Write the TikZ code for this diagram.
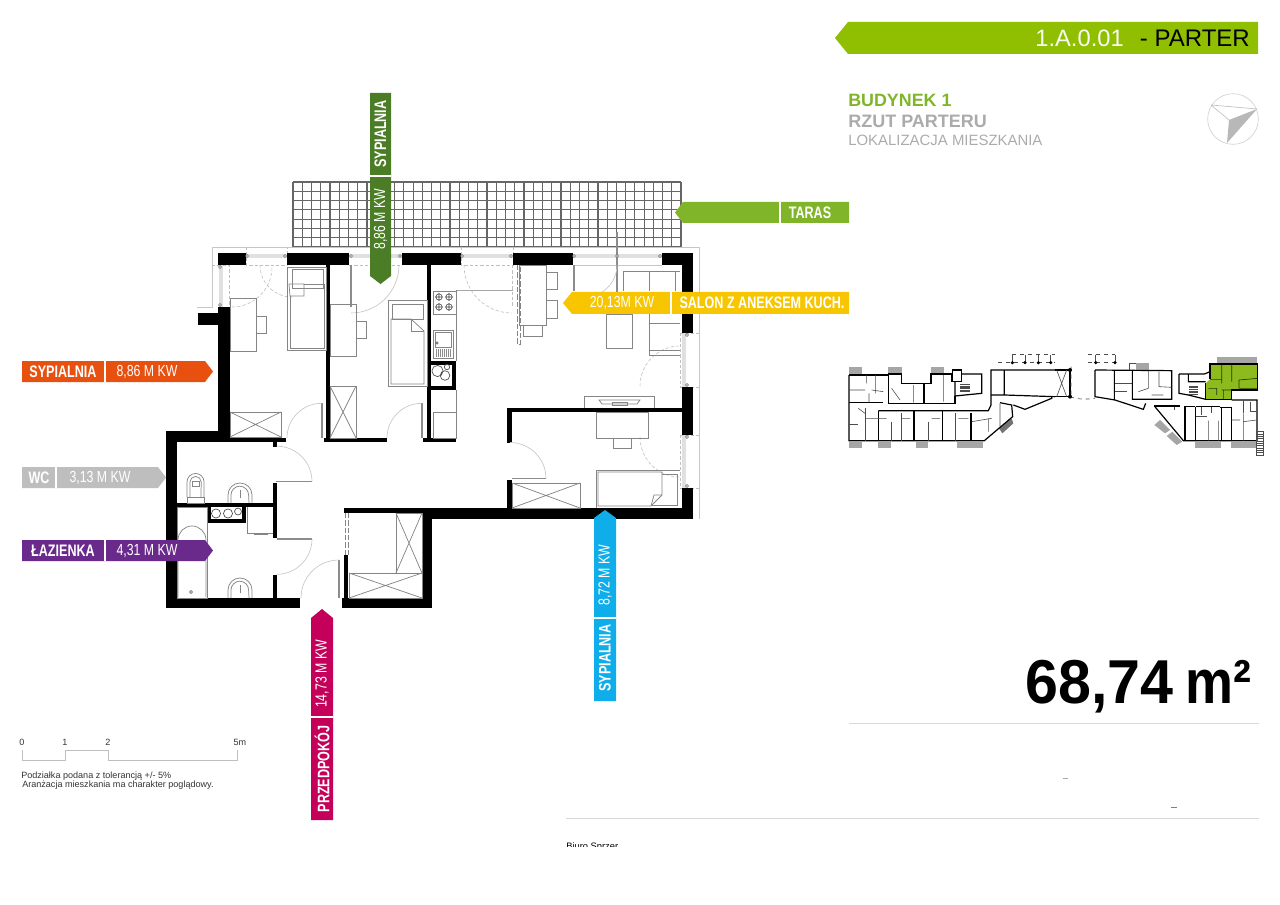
\documentclass[tikz,border=0pt]{standalone}
\usepackage{fontspec}
\setmainfont{Liberation Sans}
\newfontfamily\narrowfont[FakeStretch=0.755]{Liberation Sans}
\newfontfamily\thinnerfont[FakeStretch=0.77]{Liberation Sans}
\newfontfamily\areafont[FakeStretch=0.87]{Liberation Sans}
\newfontfamily\bigfont[FakeStretch=0.955]{Liberation Sans}
\usetikzlibrary{positioning}

\definecolor{tagorange}{HTML}{E8500F}
\definecolor{taggray}{HTML}{BEBEBE}
\definecolor{tagpurple}{HTML}{6A2A8C}
\definecolor{tagcrimson}{HTML}{C4005A}
\definecolor{tagblue}{HTML}{0FAEEA}
\definecolor{tagdarkgreen}{HTML}{4A7D25}
\definecolor{taglime}{HTML}{80B52A}
\definecolor{tagyellow}{HTML}{F7C600}
\definecolor{headgreen}{HTML}{8FBF00}
\definecolor{marked}{HTML}{8DBB1E}

\begin{document}
\begin{tikzpicture}[
    x=0.75pt, y=-0.75pt,
    % Define styles
    wall/.style={fill=black},
    furn/.style={draw=black!48, line width=0.55pt},
    furnlight/.style={draw=black!35, line width=0.5pt},
    swing/.style={draw=black!22, line width=0.5pt},
    swingdash/.style={draw=black!25, line width=0.45pt, dash pattern=on 2.5pt off 1.5pt},
    frame/.style={draw=black!22, line width=0.6pt},
    leaf/.style={draw=black!45, line width=1pt},
    tiles/.style={draw=black!60, line width=0.9pt},
    rule/.style={draw=black!15, line width=0.6pt},
    tagmain/.style={font=\narrowfont\bfseries\fontsize{12.5}{14}\selectfont, text=white, inner sep=0pt},
    tagarea/.style={font=\thinnerfont\fontsize{12}{14}\selectfont, text=white, inner sep=0pt},
    divide/.style={draw=white, line width=1.5pt},
    small/.style={font=\fontsize{6.8}{8}\selectfont, text=black!80, inner sep=0pt, anchor=west},
    mini/.style={draw=black, line width=0.9pt},
    minithin/.style={draw=black!70, line width=0.45pt},
    minipatch/.style={fill=black!35}
]
\useasboundingbox (0,0) rectangle (1280,905);

% Terrace tiles
\foreach \gx in {0,...,42}
    \draw[tiles] ({293+\gx*9.24},182) -- ({293+\gx*9.24},247);
\foreach \gy in {0,...,7}
    \draw[tiles] (293,{182+\gy*9.28}) -- (681,{182+\gy*9.28});

% Outer frame
\draw[frame] (197,307) -- (212,307) -- (212,247) -- (699,247) -- (699,519);

% Windows
\fill[black!12] (246,254) rectangle (287,258);
\fill[black!12] (349,254) rectangle (402,258);
\fill[black!12] (461,254) rectangle (513,258);
\fill[black!12] (573,254) rectangle (662,258);
\fill[black!12] (682,333) rectangle (686,387);
\fill[black!12] (682,435) rectangle (686,488);
\fill[black!12] (219,265) rectangle (223,307);
\draw[swingdash] (246,247) -- (246,265) -- (287,265) -- (287,247);
\draw[swingdash] (349,265) -- (402,265);
\draw[swingdash] (461,247) -- (461,265) -- (513,265) -- (513,247);
\draw[frame] (573,265) -- (662,265);
\draw[swingdash] (212,265) -- (229,265) -- (229,307);
\draw[swingdash] (680,333) -- (699,333) (680,387) -- (699,387);
\draw[swingdash] (680,435) -- (699,435) (680,488) -- (699,488);
\draw[swingdash] (680,333) -- (680,387) (680,435) -- (680,488);

% Walls
\fill[wall] (218,253) rectangle (246,265);
\fill[wall] (218,307) rectangle (229.5,442);
\fill[wall] (198,313) rectangle (229,325);
\fill[wall] (166,431) rectangle (229,442);
\fill[wall] (229,438) rectangle (286,442);
\fill[wall] (287,253) rectangle (349,265);
\fill[wall] (326,265) rectangle (330,440);
\fill[wall] (324,438) rectangle (387,442);
\fill[wall] (402,253) rectangle (461,265);
\fill[wall] (427,265) rectangle (431,440);
\fill[wall] (423,438) rectangle (456,442);
\fill[wall] (513,253) rectangle (573,265);
\fill[wall] (662,253) rectangle (693,265);
\fill[wall] (682,265) rectangle (693,333);
\fill[wall] (682,387) rectangle (693,435);
\fill[wall] (682,488) rectangle (693,519);
\fill[wall] (507,408) rectangle (682,412);
\fill[wall] (507,408) rectangle (512,443);
\fill[wall] (507,480) rectangle (512,510);
\fill[wall] (422,508) rectangle (693,519);
\fill[wall] (344,508) rectangle (422,513);
\fill[wall] (422,519) rectangle (432,608);
\fill[wall] (342,598) rectangle (432,608);
\fill[wall] (344,555) rectangle (348,598);
\fill[wall] (166,598) rectangle (300,608);
\fill[wall] (166,431) rectangle (177,608);
\fill[wall] (177,503) rectangle (277,507);
\fill[wall] (273,483) rectangle (277,538);
\fill[wall] (273,575) rectangle (277,598);
\fill[wall] (273,442) rectangle (277,447);

% Shafts
\fill[wall] (427,361) rectangle (456,390);
\fill[white] (431,365) rectangle (452,386);
\fill[wall] (207,507) rectangle (246,523);
\fill[white] (211,507) rectangle (242,519);

% Doors
\draw[leaf] (322,403) -- (322,438);
\draw[swing] (287,438) arc[start angle=180,end angle=90,radius=26pt];
\draw[leaf] (422,403) -- (422,438);
\draw[swing] (387,438) arc[start angle=180,end angle=90,radius=26pt];
\draw[leaf] (276,481.5) -- (312,481.5);
\draw[swing] (312,481.5) arc[start angle=0,end angle=90,radius=26.5pt];
\draw[leaf] (277,539) -- (312,539);
\draw[swing] (312,539) arc[start angle=0,end angle=-90,radius=26.5pt];
\draw[leaf] (339,560) -- (339,598);
\draw[swing] (301,598) arc[start angle=180,end angle=90,radius=28.5pt];
\draw[leaf] (512,478.5) -- (546,478.5);
\draw[swing] (546,478.5) arc[start angle=0,end angle=90,radius=27pt];
\draw[leaf] (351,265) -- (351,307);
\draw[swing] (351,313) arc[start angle=-90,end angle=0,radius=36pt];
\draw[leaf] (574,265) -- (574,291);
\draw[leaf] (617,232) -- (617,292);
\draw[swing] (617,265) arc[start angle=0,end angle=-62,radius=24pt];
\draw[swingdash] (512,265) -- (512,307);
\draw[swingdash] (464,265) arc[start angle=180,end angle=270,radius=36pt];
\draw[swingdash] (232,307) arc[start angle=-90,end angle=0,radius=30pt];
\draw[swingdash] (260,265) arc[start angle=180,end angle=270,radius=24pt];
\draw[swingdash] (640,386) arc[start angle=180,end angle=90,radius=30pt];
\draw[swingdash] (640,437) arc[start angle=180,end angle=270,radius=30pt];

% Hinges
\foreach \hx/\hy in {247/256,285/256,351/256,400/256,462/256,511/256,574/256,617/256,660/256,220/267,220/305,687/335,687/385,687/437,687/486}
    \draw[black!60, line width=0.4pt, fill=white] (\hx,\hy) circle[radius=1.1pt];

% Bedroom on the left
\draw[furn] (230,298) rectangle (256,351);
\draw[furn] (256,316) rectangle (266,333);
\draw[furn] (287,267) rectangle (326,350);
\draw[furn] (292,269) rectangle (323,288);
\draw[furn] (289,284) -- (304,284) -- (304,296) -- (290,296) -- cycle;
\draw[furn] (290,296) -- (290,348) -- (324,348) -- (324,284) -- (304,284);
\draw[furn] (230,412) rectangle (281,437);
\draw[furn] (230,412) -- (281,437) (230,437) -- (281,412);

% Bedroom in the middle
\draw[furn] (330,304) rectangle (356,356);
\draw[furn] (356,321) rectangle (366,338);
\draw[furn] (388,300) rectangle (427,386);
\draw[furn] (392,304) rectangle (423,319);
\draw[furn] (391,319) -- (411,319) -- (424,331) -- (424,384) -- (391,384) -- cycle;
\draw[furn] (411,319) -- (411,331) -- (424,331);
\draw[furn] (330,386) rectangle (356,438);
\draw[furn] (330,386) -- (356,438) (330,438) -- (356,386);

% Kitchen
\draw[furnlight] (457,290) -- (513,290);
\draw[furn] (456,290) -- (456,361) (456,390) -- (456,438);
\draw[furn] (433,291) rectangle (456,314);
\foreach \bx/\by in {439/297,449/297,439/307,449/307}
    \draw[black!70, line width=0.4pt] (\bx,\by) circle[radius=2.4pt]
        (\bx-4,\by) -- (\bx+4,\by) (\bx,\by-4) -- (\bx,\by+4);
\draw[furn] (433,330) rectangle (453,358);
\draw[furn] (435,332) rectangle (451,347);
\foreach \hx in {436,438,...,450}
    \draw[black!45, line width=0.5pt] (\hx,349) -- (\hx,357);
\draw[black!70, line width=0.4pt] (437,343) circle[radius=1pt];
\draw[black!70, line width=0.5pt] (437.5,371) circle[radius=4.2pt] (445,375.5) circle[radius=3.6pt] (447,367) circle[radius=2pt];
\draw[furn] (433,412) rectangle (456,438);

% Living room
\draw[furn] (519,265) rectangle (546,325);
\draw[furn] (546,272) rectangle (557,289);
\draw[furn] (546,300) rectangle (557,318);
\draw[furn] (523,325) rectangle (542,336);
\draw[furn, dash pattern=on 4pt off 1.5pt] (517,265) -- (517,344) -- (520,344) -- (520,265);
\draw[furn] (606,314) rectangle (632,348);
\draw[furn] (623,291) -- (623,271) -- (680,271) (649,271) -- (649,291) (675,271) -- (675,291);
\draw[furn] (649,314) -- (649,355) -- (680,355) (649,323) -- (680,323) (649,350) -- (680,350);
\draw[furn] (584,408) -- (584,396) -- (654,396) -- (654,408);
\draw[furn] (599,400) -- (640,400) -- (637,404) -- (602,404) -- cycle;
\draw[furn] (612,402) rectangle (627,405);

% Bedroom on the right
\draw[furn] (596,412) rectangle (648,438);
\draw[furn] (613,438) rectangle (631,448);
\draw[furn] (512,483) rectangle (580,508);
\draw[furn] (512,483) -- (580,508) (512,508) -- (580,483);
\draw[furn] (596,470) -- (680,470) (596,470) -- (596,508);
\draw[furn] (598,472) -- (662,472) -- (662,495) -- (651,506) -- (598,506) -- cycle;
\draw[furn] (662,474) -- (677,474) -- (677,505) -- (651,505);
\draw[furn] (662,495) -- (654,495) -- (651,506);

% Bathroom
\draw[furn] (187,497) -- (187,482) arc[start angle=180,end angle=0,radius=6.4pt] -- (204,497);
\draw[furn] (190,497) -- (190,482) arc[start angle=180,end angle=0,radius=4.2pt] -- (201,497);
\draw[furn] (187,497) rectangle (204,503);
\draw[furn] (192,481) rectangle (199,486);
\draw[furn] (228,503) -- (228,495) arc[start angle=180,end angle=0,radius=9pt] -- (252,503);
\draw[furn] (231,503) -- (231,495) arc[start angle=180,end angle=0,radius=6.6pt] -- (249,503);
\draw[furn] (228,598) -- (228,590) arc[start angle=180,end angle=0,radius=9pt] -- (252,598);
\draw[furn] (231,598) -- (231,590) arc[start angle=180,end angle=0,radius=6.6pt] -- (249,598);
\draw[furn] (240,490) -- (240,498) (240,585) -- (240,593);
\draw[furn] (177,507) rectangle (207,598);
\draw[furn] (178,597) -- (178,540) arc[start angle=180,end angle=0,radius=10.5pt] -- (206,597);
\draw[black!70, line width=0.4pt] (191,592) circle[radius=1.2pt];
\draw[furn] (247,507) -- (247,533) -- (273,533);
\draw[furn] (254,534) -- (268,534);
\draw[black!70, line width=0.5pt] (216,513.5) circle[radius=3.4pt] (228,513.5) circle[radius=3.4pt] (238,511.5) circle[radius=2.6pt];

% Hall wardrobes
\draw[furn] (396,513) rectangle (422,573);
\draw[furn] (396,513) -- (422,573) (396,573) -- (422,513);
\draw[furn] (349,573) rectangle (422,598);
\draw[furn] (349,573) -- (422,598) (349,598) -- (422,573);
\draw[furn, dash pattern=on 4pt off 1.5pt] (345,513) -- (345,555) (348,513) -- (348,555);

% Room tags
\fill[tagorange] (22,361) -- (205,361) -- (213,371.5) -- (205,382) -- (22,382) -- cycle;
\draw[divide] (105,361) -- (105,382);
\node[tagmain] (bedleft) at (63,371.5) {SYPIALNIA};
\node[tagarea] (bedleftarea) at (147,371.5) {8,86 M KW};

\fill[taggray] (22,467) -- (158,467) -- (166,477.5) -- (158,488) -- (22,488) -- cycle;
\draw[divide] (56,467) -- (56,488);
\node[tagmain] (wc) at (39,477.5) {WC};
\node[tagarea] (wcarea) at (100,477.5) {3,13 M KW};

\fill[tagpurple] (22,540) -- (205,540) -- (213,550.5) -- (205,561) -- (22,561) -- cycle;
\draw[divide] (105,540) -- (105,561);
\node[tagmain] (bath) at (63,550.5) {ŁAZIENKA};
\node[tagarea] (batharea) at (147,550.5) {4,31 M KW};

\fill[tagcrimson] (311,820) -- (311,618) -- (322,609) -- (333,618) -- (333,820) -- cycle;
\draw[divide] (311,717) -- (333,717);
\node[tagmain, rotate=90] (hall) at (322,769) {PRZEDPOKÓJ};
\node[tagarea, rotate=90] (hallarea) at (322,674) {14,73 M KW};

\fill[tagblue] (594,701) -- (594,518) -- (605,510) -- (616,518) -- (616,701) -- cycle;
\draw[divide] (594,618) -- (616,618);
\node[tagmain, rotate=90] (bedright) at (605,658) {SYPIALNIA};
\node[tagarea, rotate=90] (bedrightarea) at (605,575) {8,72 M KW};

\fill[tagdarkgreen] (370,93) -- (391,93) -- (391,276) -- (380.5,284) -- (370,276) -- cycle;
\draw[divide] (370,176) -- (391,176);
\node[tagmain, rotate=90] (bedmid) at (380.5,134) {SYPIALNIA};
\node[tagarea, rotate=90] (bedmidarea) at (380.5,219) {8,86 M KW};

\fill[taglime] (849,202) -- (683,202) -- (675,212.5) -- (683,223) -- (849,223) -- cycle;
\draw[divide] (780,202) -- (780,223);
\node[tagmain] (terrace) at (810,212.5) {TARAS};

\fill[tagyellow] (849,292) -- (572,292) -- (563,303) -- (572,314) -- (849,314) -- cycle;
\draw[divide] (671,292) -- (671,314);
\node[tagarea] (livingarea) at (622,303) {20,13M KW};
\node[tagmain] (living) at (762,303) {SALON Z ANEKSEM KUCH.};

% Header
\fill[headgreen] (848,22) -- (1258,22) -- (1258,54) -- (848,54) -- (835,38) -- cycle;
\node[font=\fontsize{17.8}{20}\selectfont, text=white!95!headgreen, inner sep=0pt, anchor=east] (flatno) at (1124,38) {1.A.0.01};
\node[font=\fontsize{18}{20}\selectfont, text=black, inner sep=0pt, anchor=east] (floor) at (1250,38) {- PARTER};

\node[font=\bfseries\fontsize{13.4}{15}\selectfont, text=taglime, inner sep=0pt, anchor=west] (building) at (848,100) {BUDYNEK 1};
\node[font=\bfseries\fontsize{13.5}{15}\selectfont, text=black!33, inner sep=0pt, anchor=west] (plan) at (848,121) {RZUT PARTERU};
\node[font=\fontsize{11.2}{13}\selectfont, text=black!33, inner sep=0pt, anchor=west] (place) at (848,140) {LOKALIZACJA MIESZKANIA};

% Compass
\draw[black!18, line width=0.5pt] (1233,119) circle[radius=19pt];
\fill[black!28] (1257,109) -- (1229,120) -- (1227,143) -- cycle;
\draw[black!25, line width=0.5pt] (1211,105) -- (1257,109) (1211,105) -- (1229,120);

% Site plan, left part
\begin{scope}[shift={(845,350)}, x=0.25pt, y=-0.25pt]
    % Terraces
    \foreach \ax/\ay/\bx/\by in {12/52/52/72,130/52/170/72,258/52/298/72,12/275/52/295,100/275/138/295,212/275/250/295,337/275/415/295}
        \fill[minipatch] (\ax,\ay) rectangle (\bx,\by);
    \fill[black!55] (462,235) -- (500,205) -- (505,220) -- (472,250) -- cycle;
    % Outer walls
    \draw[mini] (12,75) -- (12,272) -- (418,272) -- (503,200) -- (500,165) -- (465,158);
    \draw[mini] (12,75) -- (130,75) (130,72) -- (170,72) -- (170,100) -- (258,100) -- (258,72) -- (320,72) -- (320,95) -- (350,95) -- (350,60) -- (322,60) -- (322,95);
    \draw[mini] (350,72) -- (410,72) -- (410,130) -- (330,138) -- (330,95);
    \draw[mini] (12,158) -- (115,158) (130,160) -- (330,160) -- (330,138);
    \draw[mini] (100,182) -- (430,182) -- (438,165) -- (438,60) -- (630,60);
    \draw[mini] (478,60) -- (478,135) -- (438,135) (478,135) -- (630,140);
    \draw[mini] (100,182) -- (100,272) (207,182) -- (207,272) (292,182) -- (292,272) (378,190) -- (378,272);
    \draw[mini] (130,75) -- (130,158) (237,100) -- (237,158);
    \draw[mini] (505,165) -- (540,178) -- (620,145) -- (620,140);
    % Inner walls
    \draw[minithin] (12,120) -- (60,120) (80,120) -- (115,125) (92,75) -- (92,130) (65,75) -- (65,100) (72,130) -- (72,158);
    \draw[minithin] (12,222) -- (40,222) (60,175) -- (60,272) (140,215) -- (140,272) (170,190) -- (170,272) (250,215) -- (250,272) (330,190) -- (330,272);
    \draw[minithin] (205,105) -- (205,158) (140,115) -- (165,150) (295,75) -- (295,155) (380,215) -- (440,205) (430,205) -- (430,245) (465,160) -- (465,230);
    \draw[minithin] (100,205) -- (125,205) (170,205) -- (195,205) (260,205) -- (285,205) (340,205) -- (370,205) (40,175) -- (60,190) (60,205) -- (100,205);
    \foreach \sx in {1,...,6}
        \draw[minithin] (345,{100+\sx*4}) -- (375,{100+\sx*4});
    % Front row
    \draw[minithin, dashed] (502,14) -- (630,14) (460,38) -- (502,38) -- (630,38);
    \foreach \cx in {502,540,580,617} {
        \draw[minithin] (\cx,14) -- (\cx,38);
        \fill (\cx,38) circle[radius=1.3pt];
    }
\end{scope}

% Site plan, right part
\begin{scope}[shift={(1055,350)}, x=0.25pt, y=-0.25pt]
    % Terraces
    \foreach \ax/\ay/\bx/\by in {243/40/283/60,487/22/605/42,420/275/497/295,527/275/605/295}
        \fill[minipatch] (\ax,\ay) rectangle (\bx,\by);
    \fill[minipatch] (298,225) -- (315,210) -- (345,240) -- (330,250) -- cycle;
    \fill[minipatch] (335,258) -- (352,245) -- (382,275) -- (365,285) -- cycle;
    % The flat
    \fill[marked] (465,42) -- (608,42) -- (608,120) -- (530,120) -- (530,148) -- (452,148) -- (452,100) -- (465,88) -- cycle;
    \draw[black!70!marked, line width=0.5pt] (500,42) -- (500,100) (530,42) -- (530,95) (465,88) -- (500,88) (552,90) -- (608,85) (552,115) -- (608,115) (552,90) -- (552,115) (500,120) -- (530,120) (505,120) -- (505,148) (460,115) -- (485,115) -- (485,135);
    \draw[mini] (465,88) -- (465,42) -- (608,42) -- (608,120) -- (530,120) -- (530,148) -- (452,148) -- (452,100);
    % Middle part
    \draw[mini] (0,60) -- (45,60) -- (45,140) -- (0,140);
    \draw[minithin] (5,60) -- (35,140) (5,140) -- (35,60);
    \draw[minithin, dashed] (45,140) .. controls (75,150) and (95,148) .. (120,145) (48,50) -- (48,140);
    \draw[minithin, dashed] (98,14) -- (180,14) (98,38) -- (180,38);
    \foreach \cx in {122,180} {
        \draw[minithin] (\cx,14) -- (\cx,38);
        \fill (\cx,38) circle[radius=1.3pt];
    }
    \fill (45,60) circle[radius=1.5pt] (45,140) circle[radius=1.5pt];
    \draw[mini] (120,60) -- (120,140) -- (180,150) -- (265,178) -- (272,160);
    \draw[mini] (120,60) -- (350,62) -- (350,148) -- (232,148) -- (232,62) (178,60) -- (178,150);
    \draw[minithin] (180,100) -- (230,100) (180,125) -- (215,125) (222,40) -- (243,40) (222,40) -- (222,60);
    \draw[minithin] (280,62) -- (280,115) -- (250,125) (312,65) -- (312,110) -- (350,112) (290,135) -- (325,135);
    % Right wing
    \draw[mini] (372,72) -- (448,72) -- (465,65) (372,72) -- (372,130) -- (400,135) -- (452,148) (400,72) -- (400,95) -- (452,95);
    \foreach \sx in {1,...,6}
        \draw[minithin] (402,{103+\sx*5}) -- (430,{103+\sx*5});
    \draw[mini] (298,168) -- (385,272) -- (606,272) -- (606,150) -- (530,150);
    \draw[mini] (298,168) -- (375,168) (388,170) -- (420,170) (422,170) -- (495,170) (495,172) -- (530,172);
    \draw[mini] (390,170) -- (390,272) (422,170) -- (422,272) (500,170) -- (500,272) (530,170) -- (530,272);
    \draw[minithin] (460,212) -- (460,272) (490,212) -- (490,272) (565,190) -- (565,272) (530,210) -- (555,210) (565,215) -- (605,210);
    \draw[minithin] (423,198) -- (455,198) (358,170) -- (358,180) (440,172) -- (440,195) (470,172) -- (470,190) (565,150) -- (565,190) (585,155) -- (585,185) -- (605,185);
    % Stairs beside the wing
    \draw[minithin] (605,245) rectangle (625,315);
    \foreach \sx in {1,...,9}
        \draw[minithin] (605,{245+\sx*7}) -- (625,{245+\sx*7});
\end{scope}

% Scale bar
\draw[rule, draw=black!25] (22,750) -- (22,760.5) -- (65,760.5) -- (65,750) -- (108,750) -- (108,760.5) -- (237,760.5) -- (237,750);
\node[small, anchor=center] (scale0) at (22,742) {0};
\node[small, anchor=center] (scale1) at (65,742) {1};
\node[small, anchor=center] (scale2) at (108,742) {2};
\node[small, anchor=center] (scale5) at (240,742) {5m};
\node[small] (tolerance) at (21,776) {Podziałka podana z tolerancją +/- 5\%};
\node[small] (note) at (22,785) {Aranżacja mieszkania ma charakter poglądowy.};

% Area
\node[font=\bigfont\bfseries\fontsize{46.5}{50}\selectfont, inner sep=0pt, anchor=base west] (areaval) at (1025,703) {68,74};
\node[font=\areafont\bfseries\fontsize{46.5}{50}\selectfont, inner sep=0pt, anchor=base west] (areaunit) at (1185,703) {m²};

% Rules and clipped footer
\draw[rule] (849,723) -- (1259,723);
\draw[rule] (566,818) -- (1259,818);
\draw[black!35, line width=0.5pt] (1063,778) -- (1068,778);
\draw[black!50, line width=0.6pt] (1171,807) -- (1177,807);
\begin{scope}
    \clip (560,830) rectangle (700,846.5);
    \node[font=\fontsize{7}{8}\selectfont, inner sep=0pt, anchor=base west] (office) at (566,849) {Biuro Sprzer};
\end{scope}

\end{tikzpicture}
\end{document}
